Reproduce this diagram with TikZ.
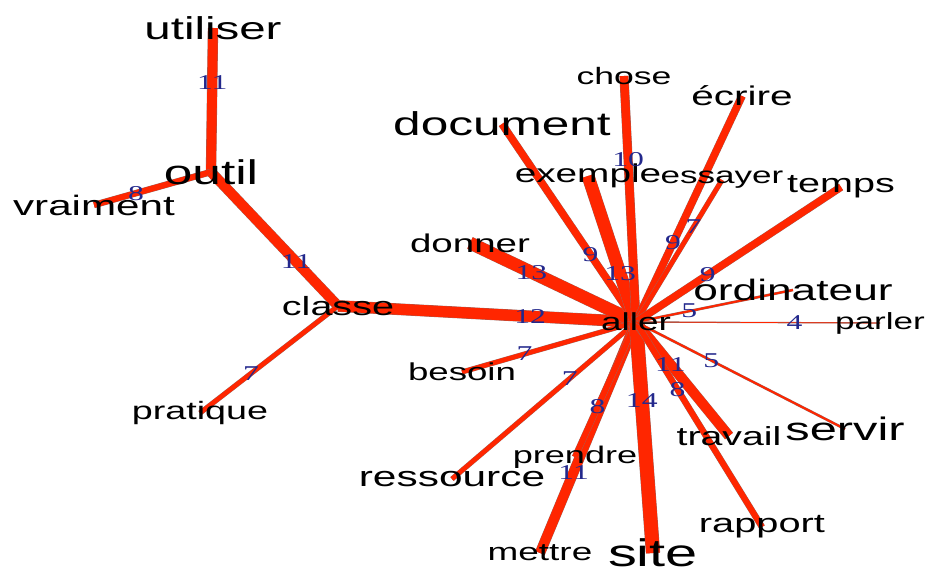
\documentclass[tikz,border=0pt]{standalone}
\usepackage{fontspec}
\setmainfont{Liberation Sans}
\newfontfamily\numfont{Liberation Serif}
\usepackage{graphicx}
\usepackage{tikz}
\usetikzlibrary{backgrounds}
\definecolor{linkred}{RGB}{255,38,0}
\definecolor{linkgrey}{RGB}{150,105,100}
\definecolor{scoreblue}{RGB}{35,40,140}
\def\word#1#2{\scalebox{1.5}[1]{\fontsize{#1}{#1}\selectfont #2}}
\def\link(#1,#2,#3){\draw[linkshade,line width={(1.3*(#3-3.5)+0.7)*0.567pt}] (#1.center)--(#2.center); \draw[link,line width={1.3*(#3-3.5)*0.567pt}] (#1.center)--(#2.center);}
\def\weight(#1,#2,#3,#4){\path (#1.center)--(#2.center) node[pos=#4,score]{\scalebox{1.5}[1]{#3}};}
\tikzset{
  word/.style={inner sep=0pt},
  link/.style={draw=linkred},
  linkshade/.style={draw=linkgrey},
  score/.style={inner sep=0pt,text=scoreblue,font=\numfont\fontsize{12}{12}\selectfont},
}

\begin{document}
\begin{tikzpicture}[x=0.02cm,y=-0.02cm]
	\useasboundingbox (0,0) rectangle (927,570);
	
	%LEFT WORDS
	\node[word] (utiliser) at (213,28) {\word{18}{utiliser}};
	\node[word] (outil) at (211,172) {\word{19.5}{outil}};
	\node[word] (vraiment) at (94,205) {\word{16}{vraiment}};
	\node[word] (classe) at (338,306) {\word{15}{classe}};
	\node[word] (pratique) at (200,413) {\word{14.3}{pratique}};
	%
	\node[word] (aller) at (636,322) {\word{14}{aller}};
	%
	%UPPER WORDS
	\node[word] (chose) at (624,76) {\word{13.5}{chose}};
	\node[word] (ecrire) at (742,96) {\word{15.4}{écrire}};
	\node[word] (document) at (502,124) {\word{18.8}{document}};
	\node[word] (exemple) at (588,176) {\word{14.7}{exemple}};
	\node[word] (essayer) at (722,180) {\word{13.3}{essayer}};
	\node[word] (temps) at (841,187) {\word{15}{temps}};
	\node[word] (donner) at (470,243) {\word{14.6}{donner}};
	\node[word] (ordinateur) at (793,290) {\word{16.8}{ordinateur}};
	\node[word] (parler) at (880,323) {\word{13.3}{parler}};
	%
	%LOWER WORDS
	\node[word] (besoin) at (462,372) {\word{13.9}{besoin}};
	\node[word] (ressource) at (452,479) {\word{16.1}{ressource}};
	\node[word] (prendre) at (575,457) {\word{13.7}{prendre}};
	\node[word] (mettre) at (540,553) {\word{14}{mettre}};
	\node[word] (site) at (653,553) {\word{21.9}{site}};
	\node[word] (travail) at (729,436) {\word{14.9}{travail}};
	\node[word] (servir) at (845,429) {\word{18.5}{servir}};
	\node[word] (rapport) at (762,527) {\word{15.1}{rapport}};
	
	%LINKS
	\begin{scope}[on background layer]
	\link(utiliser,outil,11)
	\link(outil,vraiment,8)
	\link(outil,classe,11)
	\link(classe,pratique,7)
	\link(aller,classe,12)
	%
	\link(aller,donner,13)
	\link(aller,document,9)
	\link(aller,exemple,13)
	\link(aller,chose,10)
	\link(aller,ecrire,9)
	\link(aller,essayer,7)
	\link(aller,temps,9)
	\link(aller,ordinateur,5)
	\link(aller,parler,4)
	%
	\link(aller,besoin,7)
	\link(aller,ressource,7)
	\link(aller,mettre,11)
	\link(aller,prendre,8)
	\link(aller,site,14)
	\link(aller,travail,11)
	\link(aller,rapport,8)
	\link(aller,servir,5)
	\end{scope}
	
	%WEIGHTS
	\weight(utiliser,outil,11,0.38)
	\weight(outil,vraiment,8,0.64)
	\weight(outil,classe,11,0.67)
	\weight(classe,pratique,7,0.63)
	\weight(aller,classe,12,0.355)
	%
	\weight(aller,donner,13,0.63)
	\weight(aller,document,9,0.34)
	\weight(aller,exemple,13,0.33)
	\weight(aller,chose,10,0.66)
	\weight(aller,ecrire,9,0.35)
	\weight(aller,essayer,7,0.67)
	\weight(aller,temps,9,0.35)
	\weight(aller,ordinateur,5,0.34)
	\weight(aller,parler,4,0.65)
	%
	\weight(aller,besoin,7,0.64)
	\weight(aller,ressource,7,0.36)
	\weight(aller,mettre,11,0.65)
	\weight(aller,prendre,8,0.63)
	\weight(aller,site,14,0.34)
	\weight(aller,travail,11,0.37)
	\weight(aller,rapport,8,0.33)
	\weight(aller,servir,5,0.36)
\end{tikzpicture}
\end{document}
